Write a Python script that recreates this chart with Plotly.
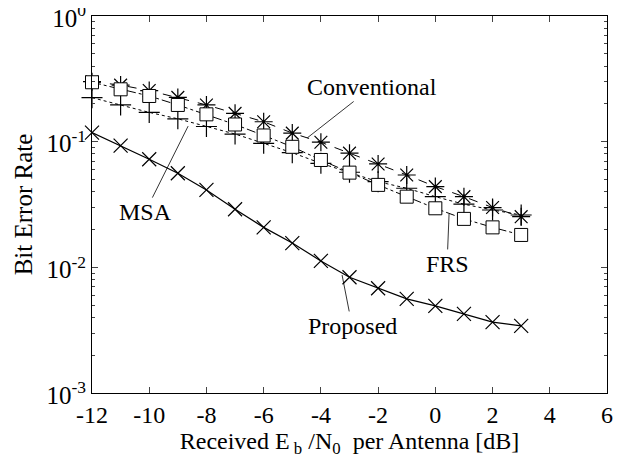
import numpy as np
import plotly.graph_objects as go

snr = [-12, -11, -10, -9, -8, -7, -6, -5, -4, -3, -2, -1, 0, 1, 2, 3]

ber_conventional = [0.30, 0.282, 0.255, 0.225, 0.196, 0.168, 0.144, 0.117, 0.099, 0.081,
                    0.0665, 0.0543, 0.0439, 0.0365, 0.0299, 0.0253]
ber_frs = [0.297, 0.261, 0.231, 0.196, 0.165, 0.137, 0.112, 0.091, 0.0715, 0.0567,
           0.0453, 0.0365, 0.0295, 0.0243, 0.0208, 0.0181]
ber_msa = [0.224, 0.196, 0.171, 0.152, 0.132, 0.115, 0.097, 0.0817, 0.0673, 0.0571,
           0.048, 0.0426, 0.0365, 0.0318, 0.0286, 0.0261]
ber_proposed = [0.118, 0.093, 0.0724, 0.0561, 0.0413, 0.029, 0.0208, 0.0156, 0.01125, 0.00834,
                0.00682, 0.00561, 0.00493, 0.00426, 0.00366, 0.00342]

x_ticks = [-12, -10, -8, -6, -4, -2, 0, 2, 4, 6]
x_ticktext = ["-12", "-10", "-8", "-6", "-4", "-2", "0", "2", "4", "6"]
y_ticks = [1e-3, 1e-2, 1e-1, 1e0]
y_ticktext = ["10<sup>-3</sup>", "10<sup>-2</sup>", "10<sup>-1</sup>", "10<sup>0</sup>"]

labels = [
    # text, x, y, ax, ay
    ("Conventional", -4.48, 0.107, 65, -51),
    ("MSA", -8.64, 0.133, -43, 86),
    ("FRS", 0.48, 0.0266, -2, 50),
    ("Proposed", -3.26, 0.0087, 10, 51),
]

FONT = "Liberation Serif"
fig = go.Figure()

fig.add_trace(go.Scatter(x=snr, y=ber_conventional, mode="lines+markers", name="Conventional",
                         cliponaxis=False,
                         line=dict(color="black", width=1, dash="dash"),
                         marker=dict(symbol="asterisk-open", size=15, color="black",
                                     line=dict(color="black", width=1.2))))
fig.add_trace(go.Scatter(x=snr, y=ber_msa, mode="lines+markers", name="MSA",
                         cliponaxis=False,
                         line=dict(color="black", width=1, dash="dot"),
                         marker=dict(symbol="cross-thin-open", size=15, color="black",
                                     line=dict(color="black", width=1.2))))
fig.add_trace(go.Scatter(x=snr, y=ber_frs, mode="lines+markers", name="FRS",
                         cliponaxis=False,
                         line=dict(color="black", width=1, dash="dashdot"),
                         marker=dict(symbol="square", size=13, color="white",
                                     line=dict(color="black", width=1))))
fig.add_trace(go.Scatter(x=snr, y=ber_proposed, mode="lines+markers", name="Proposed",
                         cliponaxis=False,
                         line=dict(color="black", width=1.2),
                         marker=dict(symbol="x-thin-open", size=14, color="black",
                                     line=dict(color="black", width=1.2))))

for text, x, y, ax, ay in labels:
    fig.add_annotation(x=x, y=np.log10(y), text=text, showarrow=True, arrowhead=0,
                       arrowwidth=0.8, arrowcolor="black", ax=ax, ay=ay,
                       font=dict(family=FONT, size=24, color="black"))

minor_vals = [m * 10.0 ** k for k in (-3, -2, -1) for m in range(2, 10)]

# page body adds an 8px margin, so the figure is sized to fit the 624x462 window
fig.update_layout(
    width=616, height=454,
    margin=dict(l=84, r=17, t=8, b=69, autoexpand=False),
    paper_bgcolor="white", plot_bgcolor="white",
    showlegend=False,
    font=dict(family=FONT, size=24, color="black"),
    xaxis=dict(range=[-12, 6], tickvals=x_ticks, ticktext=x_ticktext,
               ticks="inside", ticklen=6, automargin=False, ticklabeloverflow="allow",
               showgrid=False, zeroline=False, showline=True, linecolor="black",
               linewidth=1, mirror="ticks",
               title=dict(text="Received E<sub> b</sub> /N<sub>0</sub>  per Antenna [dB]",
                          font=dict(size=24), standoff=4),
               tickfont=dict(size=24)),
    yaxis=dict(type="log", range=[-3, 0], tickvals=y_ticks, ticktext=y_ticktext,
               ticks="inside", ticklen=6, showgrid=False, zeroline=False, automargin=False,
               ticklabeloverflow="allow", ticklabelshift=2,
               showline=True, linecolor="black", linewidth=1, mirror="ticks",
               minor=dict(tickvals=minor_vals, ticks="inside", ticklen=3, showgrid=False),
               title=dict(text="Bit Error Rate", font=dict(size=25), standoff=6),
               tickfont=dict(size=25)),
)

fig.write_html("out.html")
